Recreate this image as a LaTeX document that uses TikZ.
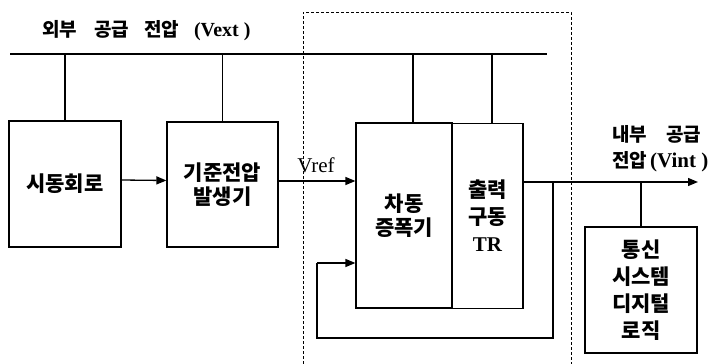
\documentclass[tikz,border=0pt]{standalone}
\usepackage{fontspec}
\newfontfamily\kr{Noto Sans CJK KR}
\newfontfamily\tms{Liberation Serif}
\usetikzlibrary{arrows.meta}
\begin{document}
\begin{tikzpicture}[x=1pt,y=-1pt,
  ln/.style={line width=1.3pt},
  arr/.style={line width=1.3pt,-{Triangle[length=10pt,width=8pt]}},
  blk/.style={draw,line width=1.2pt,inner sep=0pt,align=center,
    font=\kr\bfseries\fontsize{21}{24}\selectfont},
  lbl/.style={inner sep=0pt,align=left,font=\kr\bfseries\fontsize{19}{26}\selectfont}]
\useasboundingbox (0,0) rectangle (716,364);
% dashed region
\draw[line width=0.8pt,dash pattern=on 3pt off 2pt] (303,364) -- (303,12) -- (571,12) -- (571,364);
% bus
\coordinate (busL) at (10,54);
\coordinate (busR) at (547,54);
\draw[ln] (busL) -- (busR);
\node[lbl,anchor=west] (vext) at (42,31) {외부\hspace{17pt}공급\hspace{15pt}전압\hspace{15pt}{\tms\bfseries\fontsize{20}{26}\selectfont (Vext )}};
% blocks
\node[blk,minimum width=112pt,minimum height=126pt] (b1) at (65,184) {시동회로};
\node[blk,minimum width=111pt,minimum height=125pt] (b2) at (222.5,184.5) {기준전압\\발생기};
\node[blk,minimum width=96pt,minimum height=185pt] (amp) at (404,215.5) {차동\\증폭기};
\node[blk,minimum width=71pt,minimum height=185pt,font=\kr\bfseries\fontsize{21}{27}\selectfont] (tr) at (487.5,216) {출력\\구동\\{\tms\bfseries\fontsize{21}{27}\selectfont TR}};
\node[blk,minimum width=112pt,minimum height=126pt,font=\kr\bfseries\fontsize{21}{27}\selectfont] (b4) at (641,290) {통신\\시스템\\디지털\\로직};
% supply drops
\draw[ln] (b1.north) -- (b1.north |- busL);
\draw[ln] (b2.north) -- (b2.north |- busL);
\draw[ln] (413,123) -- (413,54);
\draw[ln] (492,123) -- (492,54);
% signal arrows
\draw[arr] ([yshift=4pt]b1.east) -- ([yshift=4pt]b2.west);
\draw[arr] ([yshift=3.5pt]b2.east) -- (amp.west |- 0,181);
\node[inner sep=0pt,font=\tms\fontsize{21}{24}\selectfont] (vref) at (316,165) {Vref};
% output
\coordinate (outE) at (698,182);
\draw[arr] (tr.east |- 0,182) -- (outE);
\node[lbl,anchor=west] (vint) at (612,149) {내부\hspace{19pt}공급\\전압\hspace{3pt}{\tms\bfseries\fontsize{21}{26}\selectfont (Vint )}};
\coordinate (tap) at (641,182);
\draw[ln] (tap) -- (b4.north);
% feedback
\coordinate (fb) at (553,182);
\coordinate (fbB) at (553,338);
\coordinate (fbL) at (317,338);
\coordinate (fbT) at (317,263);
\draw[ln] (fb) -- (fbB) -- (fbL) -- (fbT);
\draw[arr] (fbT) -- (amp.west |- fbT);
\end{tikzpicture}
\end{document}
